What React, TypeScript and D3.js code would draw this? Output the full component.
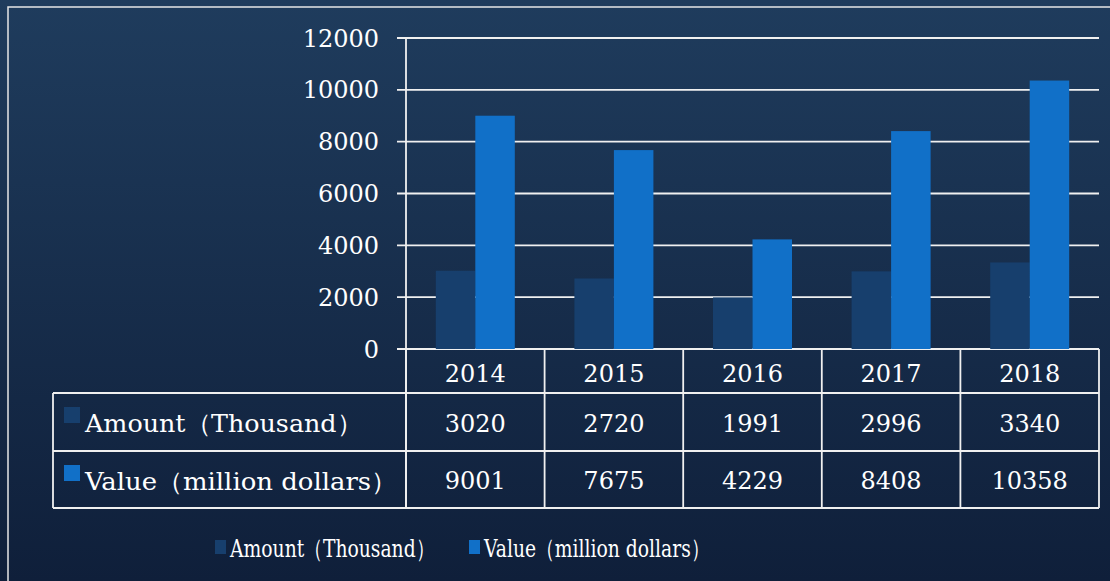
import React from "react";
import * as d3 from "d3";

const years = ["2014", "2015", "2016", "2017", "2018"];
const amount = [3020, 2720, 1991, 2996, 3340];
const value = [9001, 7675, 4229, 8408, 10358];
const seriesNames = ["Amount（Thousand）", "Value（million dollars）"];
const yTicks = [0, 2000, 4000, 6000, 8000, 10000, 12000];

const W = 1110;
const H = 581;
const FONT = "'DejaVu Serif', serif";
const colors = ["#173f6d", "#1170c8"];

export default function App() {
  const left = 406, right = 1099, top = 38, zero = 349;
  const x = d3.scaleBand<string>().domain(years).range([left, right]).padding(0);
  const bw = x.bandwidth();
  const inner = d3.scaleBand<number>().domain([0, 1]).range([bw * 0.215, bw * 0.785]).padding(0);
  const y = d3.scaleLinear().domain([0, 12000]).range([zero, top]);
  const data = [amount, value];
  const tableLeft = 53;
  const rowY = [349, 393, 451, 508];
  const labelLen = [277, 312];

  return (
    <svg width={W} height={H} style={{ position: "fixed", left: 0, top: 0 }}>
      <defs>
        <linearGradient id="bg" x1="0" y1="0" x2="0" y2="1">
          <stop offset="0" stopColor="#1f3c5d" />
          <stop offset="1" stopColor="#0f1f3a" />
        </linearGradient>
      </defs>
      <rect x={0} y={0} width={W} height={H} fill="url(#bg)" />
      <rect x={8} y={7} width={W + 20} height={H + 20} fill="none" stroke="#e6e6e6" strokeWidth={1.5} />

      {yTicks.map((t) => (
        <g key={t}>
          <line x1={397} x2={right} y1={y(t)} y2={y(t)} stroke="#f0f0f0" strokeWidth={1.8} />
          <text x={379} y={y(t)} dy="0.36em" textAnchor="end" fill="#fff" fontFamily={FONT} fontSize={24}>{t}</text>
        </g>
      ))}
      <line x1={left} x2={left} y1={top} y2={zero} stroke="#f0f0f0" strokeWidth={1.8} />

      {data.map((arr, si) =>
        arr.map((v, i) => (
          <rect
            key={si + "-" + i}
            x={(x(years[i]) as number) + (inner(si) as number)}
            y={y(v)}
            width={inner.bandwidth()}
            height={zero - y(v)}
            fill={colors[si]}
          />
        ))
      )}

      {/* table */}
      <g stroke="#f0f0f0" strokeWidth={1.8} fill="none">
        <line x1={left} x2={left} y1={rowY[0]} y2={rowY[3]} />
        <line x1={right} x2={right} y1={rowY[0]} y2={rowY[3]} />
        <line x1={tableLeft} x2={tableLeft} y1={rowY[1]} y2={rowY[3]} />
        {years.map((yr) => (
          <line key={yr} x1={x(yr) as number} x2={x(yr) as number} y1={rowY[0]} y2={rowY[3]} />
        ))}
        <line x1={tableLeft} x2={right} y1={rowY[1]} y2={rowY[1]} />
        <line x1={tableLeft} x2={right} y1={rowY[2]} y2={rowY[2]} />
        <line x1={tableLeft} x2={right} y1={rowY[3]} y2={rowY[3]} />
      </g>
      {years.map((yr) => (
        <text key={yr} x={(x(yr) as number) + bw / 2} y={(rowY[0] + rowY[1]) / 2 + 2} dy="0.36em" textAnchor="middle" fill="#fff" fontFamily={FONT} fontSize={24}>{yr}</text>
      ))}
      {data.map((arr, si) => (
        <g key={si}>
          <rect x={64} y={rowY[si + 1] + 14} width={16} height={16} fill={colors[si]} />
          <text x={85} y={(rowY[si + 1] + rowY[si + 2]) / 2 + 1} dy="0.36em" fill="#fff" fontFamily={FONT} fontSize={25} textLength={labelLen[si]} lengthAdjust="spacingAndGlyphs">{seriesNames[si]}</text>
          {arr.map((v, i) => (
            <text key={i} x={(x(years[i]) as number) + bw / 2} y={(rowY[si + 1] + rowY[si + 2]) / 2 + 1} dy="0.36em" textAnchor="middle" fill="#fff" fontFamily={FONT} fontSize={24}>{v}</text>
          ))}
        </g>
      ))}

      {/* legend */}
      {seriesNames.map((n, si) => {
        const lx = si === 0 ? 215 : 469;
        return (
          <g key={n}>
            <rect x={lx} y={540} width={11} height={14} fill={colors[si]} />
            <text transform={`translate(${lx + 15},557) scale(0.75,1)`} fill="#fff" fontFamily={FONT} fontSize={25}>{n}</text>
          </g>
        );
      })}
    </svg>
  );
}
